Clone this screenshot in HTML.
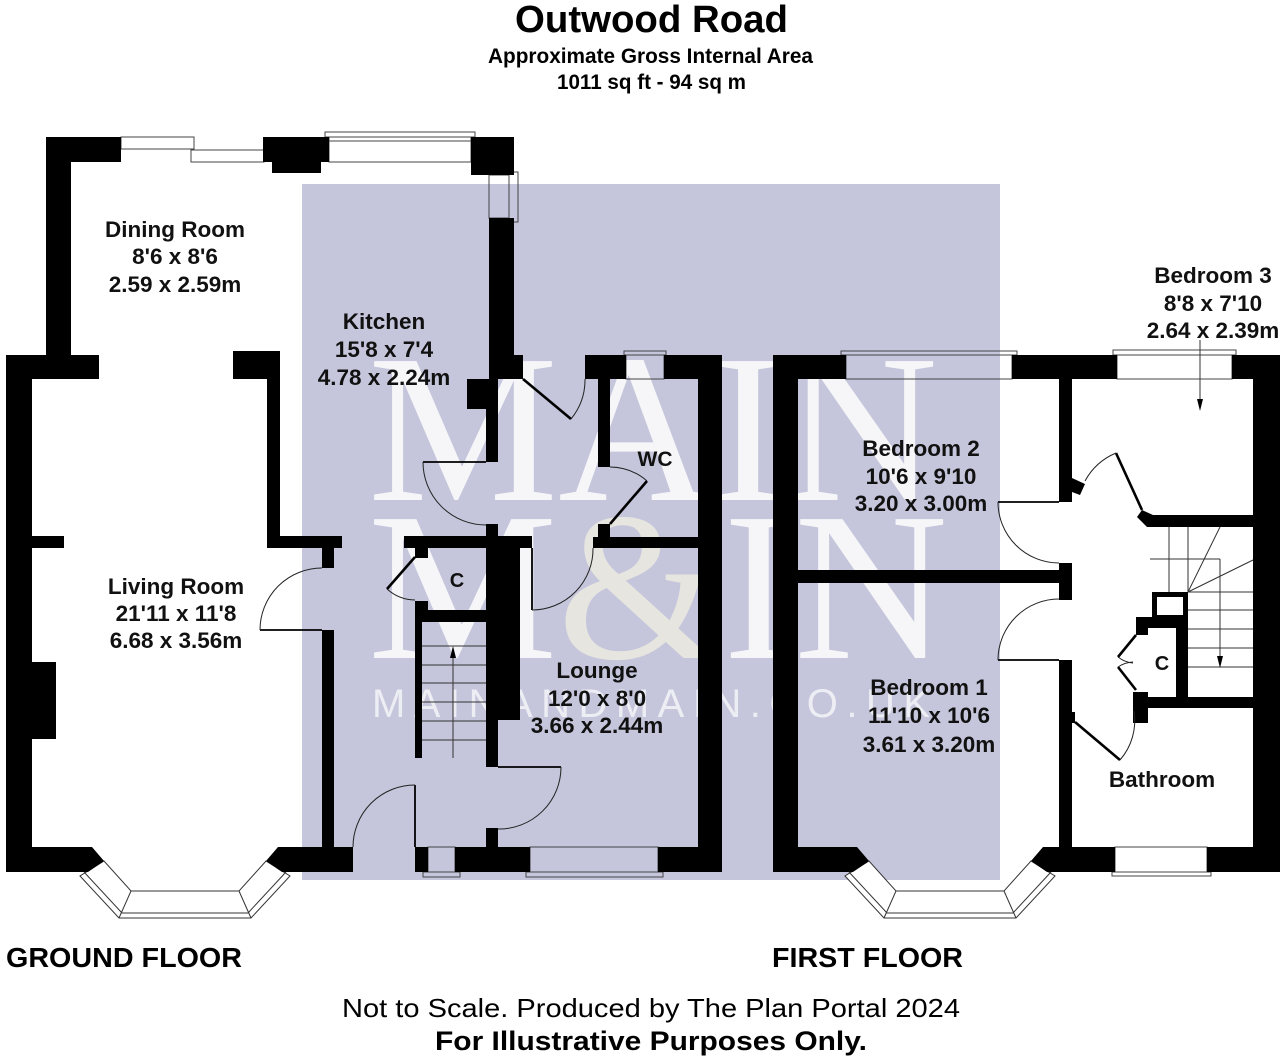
<!DOCTYPE html>
<html><head><meta charset="utf-8"><style>
html,body{margin:0;padding:0;background:#fff;}
svg{display:block;}
.lb{font-family:"Liberation Sans",Arial,sans-serif;font-weight:bold;font-size:22.5px;fill:#111;text-anchor:middle;}
.w{fill:#000;}
.win{fill:none;stroke:#444;stroke-width:1;}
.arc{fill:none;stroke:#222;stroke-width:1;}
.leaf{fill:none;stroke:#000;stroke-width:2.6;}
.leafT{fill:none;stroke:#000;stroke-width:1.8;}
.st{stroke:#333;stroke-width:1;fill:none;}
</style></head><body>
<svg width="1288" height="1064" viewBox="0 0 1288 1064" xmlns="http://www.w3.org/2000/svg">
<rect width="1288" height="1064" fill="#fff"/>
<rect x="302" y="184" width="698" height="696" fill="#c5c6db"/>

<!-- watermark -->
<g font-family="'Liberation Serif',serif" fill="#fff" opacity="0.85">
<text x="368" y="500" font-size="212" textLength="570" lengthAdjust="spacingAndGlyphs">MAIN</text>
<text x="368" y="658" font-size="212" textLength="580" lengthAdjust="spacingAndGlyphs">M<tspan fill="#ecebe2">&amp;</tspan>IN</text>
</g>
<text x="372" y="717" font-family="'Liberation Sans',sans-serif" font-size="40" fill="#fff" opacity="0.7" textLength="558" lengthAdjust="spacing">MAINANDMAIN.CO.UK</text>

<!-- ground floor windows -->
<rect class="win" x="121" y="137" width="73" height="12"/>
<rect class="win" x="191" y="150" width="73" height="12"/>
<rect class="win" x="325" y="132" width="150" height="5"/>
<rect class="win" x="329" y="137" width="142" height="25"/>
<line class="win" x1="329" y1="141" x2="471" y2="141"/>
<rect class="win" x="489" y="175" width="20" height="43"/>
<rect class="win" x="509" y="172" width="9" height="50"/>
<rect class="win" x="624" y="351" width="42" height="4"/>
<rect class="win" x="626" y="355" width="38" height="24"/>
<rect class="win" x="428" y="847" width="27" height="25"/>
<rect class="win" x="423" y="872" width="37" height="5"/>
<rect class="win" x="530" y="847" width="128" height="25"/>
<rect class="win" x="526" y="872" width="137" height="5"/>

<!-- first floor windows -->
<rect class="win" x="841" y="351" width="176" height="4"/>
<rect class="win" x="846" y="355" width="166" height="24"/>
<rect class="win" x="1113" y="350" width="123" height="5"/>
<rect class="win" x="1117" y="355" width="115" height="24"/>
<rect class="win" x="1115" y="847" width="92" height="25"/>
<rect class="win" x="1112" y="872" width="99" height="4"/>

<!-- bays -->
<g fill="#fff" stroke="#333" stroke-width="1">
<polygon points="80,876 119,918 251,918 290,876 266,861 239,891 131,891 104,861"/>
<polygon points="845,876 884,918 1016,918 1055,876 1031,861 1004,891 896,891 869,861"/>
</g>
<g class="st">
<polyline points="84,872 122,913 248,913 286,872"/>
<line x1="131" y1="891" x2="119" y2="918"/><line x1="239" y1="891" x2="251" y2="918"/>
<polyline points="849,872 887,913 1013,913 1051,872"/>
<line x1="896" y1="891" x2="884" y2="918"/><line x1="1004" y1="891" x2="1016" y2="918"/>
</g>

<!-- ground floor walls -->
<g class="w">
<rect x="46" y="137" width="25" height="242"/>
<rect x="6" y="355" width="93" height="24"/>
<rect x="6" y="355" width="26" height="517"/>
<rect x="46" y="137" width="75" height="25"/>
<rect x="263" y="137" width="66" height="25"/>
<rect x="272" y="162" width="49" height="11"/>
<rect x="471" y="137" width="43" height="38"/>
<rect x="489" y="218" width="25" height="161"/>
<rect x="514" y="355" width="9" height="24"/>
<rect x="467" y="379" width="31" height="30"/>
<rect x="486" y="409" width="12" height="53"/>
<rect x="585" y="355" width="41" height="24"/>
<rect x="664" y="355" width="58" height="24"/>
<rect x="698" y="355" width="24" height="517"/>
<rect x="598" y="379" width="12" height="88"/>
<rect x="598" y="524" width="12" height="13"/>
<rect x="593" y="537" width="105" height="11"/>
<rect x="486" y="524" width="12" height="12"/>
<rect x="404" y="536" width="128" height="12"/>
<rect x="486" y="548" width="34" height="172"/>
<rect x="486" y="720" width="12" height="47"/>
<rect x="415" y="548" width="13" height="10"/>
<rect x="415" y="601" width="13" height="10"/>
<rect x="415" y="610" width="71" height="12"/>
<rect x="415" y="622" width="7" height="136"/>
<rect x="486" y="828" width="12" height="19"/>
<rect x="415" y="847" width="13" height="25"/>
<rect x="455" y="847" width="75" height="25"/>
<rect x="658" y="847" width="64" height="25"/>
<rect x="233" y="351" width="47" height="28"/>
<rect x="267" y="379" width="13" height="169"/>
<rect x="267" y="536" width="75" height="12"/>
<rect x="322" y="548" width="12" height="20"/>
<rect x="322" y="630" width="12" height="217"/>
<rect x="32" y="536" width="32" height="12"/>
<rect x="32" y="662" width="24" height="77"/>
<polygon points="6,847 92,847 104,861 88,872 6,872"/>
<polygon points="353,847 278,847 266,861 282,872 353,872"/>
</g>

<!-- first floor walls -->
<g class="w">
<rect x="773" y="355" width="25" height="517"/>
<rect x="773" y="355" width="73" height="24"/>
<rect x="1012" y="355" width="105" height="24"/>
<rect x="1232" y="355" width="48" height="24"/>
<rect x="1253" y="355" width="27" height="517"/>
<rect x="1059" y="379" width="13" height="123"/>
<rect x="1059" y="563" width="13" height="37"/>
<rect x="798" y="570" width="274" height="13"/>
<rect x="1059" y="660" width="13" height="187"/>
<rect x="1150" y="515" width="103" height="12"/>
<polygon points="1137,517 1142,510 1153,515 1153,527 1147,527"/>
<polygon points="1072,478 1085,484 1080,495 1072,492"/>
<rect x="1152" y="592" width="36" height="25"/>
<rect x="1136" y="617" width="52" height="11"/>
<rect x="1176" y="617" width="12" height="91"/>
<rect x="1136" y="697" width="117" height="11"/>
<rect x="1136" y="617" width="12" height="18"/>
<rect x="1133" y="692" width="15" height="31"/>
<rect x="1072" y="712" width="3" height="11"/>
<rect x="1207" y="847" width="73" height="25"/>
<polygon points="773,847 857,847 869,861 853,872 773,872"/>
<polygon points="1115,847 1043,847 1031,861 1047,872 1115,872"/>
</g>
<rect x="1157" y="597" width="26" height="18" fill="#fff"/>

<!-- doors ground -->
<line class="leafT" x1="260" y1="630" x2="322" y2="630"/>
<path class="arc" d="M260,630 A62,62 0 0 1 322,568"/>
<line class="leafT" x1="423" y1="462" x2="486" y2="462"/>
<path class="arc" d="M423,462 A63,63 0 0 0 486,525"/>
<line class="leaf" x1="523" y1="379" x2="571" y2="419"/>
<path class="arc" d="M571,419 A62,62 0 0 0 585,379"/>
<line class="leaf" x1="610" y1="524" x2="647" y2="481"/>
<path class="arc" d="M647,481 A57,57 0 0 0 610,467"/>
<line class="leaf" x1="415" y1="557" x2="387" y2="589"/>
<path class="arc" d="M387,589 A43,43 0 0 0 415,600"/>
<line class="leafT" x1="532" y1="548" x2="532" y2="610"/>
<path class="arc" d="M532,610 A61,61 0 0 0 593,548"/>
<line class="leafT" x1="498" y1="767" x2="561" y2="767"/>
<path class="arc" d="M561,767 A62,62 0 0 1 498,829"/>
<line class="leafT" x1="415" y1="785" x2="415" y2="847"/>
<path class="arc" d="M415,785 A62,62 0 0 0 353,847"/>

<!-- doors first -->
<line class="leafT" x1="998" y1="502" x2="1059" y2="502"/>
<path class="arc" d="M998,502 A61,61 0 0 0 1059,563"/>
<line class="leafT" x1="998" y1="660" x2="1059" y2="660"/>
<path class="arc" d="M998,660 A61,61 0 0 1 1059,599"/>
<line class="leaf" x1="1116" y1="453" x2="1142" y2="510"/>
<path class="arc" d="M1116,453 A63,63 0 0 0 1085,481"/>
<line class="leaf" x1="1075" y1="722" x2="1120" y2="760"/>
<path class="arc" d="M1120,760 A60,60 0 0 0 1134,711"/>
<line class="leaf" x1="1136" y1="635" x2="1118" y2="657"/>
<line class="leaf" x1="1136" y1="690" x2="1118" y2="667"/>
<path class="arc" d="M1118,657 A28,28 0 0 0 1133,663"/>
<path class="arc" d="M1118,667 A29,29 0 0 1 1133,662"/>

<!-- stairs ground -->
<g class="st">
<line x1="422" y1="646" x2="486" y2="646"/>
<line x1="422" y1="665" x2="486" y2="665"/>
<line x1="422" y1="683" x2="486" y2="683"/>
<line x1="422" y1="702" x2="486" y2="702"/>
<line x1="422" y1="721" x2="486" y2="721"/>
<line x1="422" y1="740" x2="486" y2="740"/>
<line x1="453" y1="758" x2="453" y2="656"/>
</g>
<polygon points="453,646 450,658 456,658" fill="#000"/>

<!-- stairs first -->
<g class="st">
<line x1="1169" y1="527" x2="1169" y2="592"/>
<line x1="1188" y1="527" x2="1188" y2="592"/>
<line x1="1150" y1="559" x2="1220" y2="559"/>
<line x1="1220" y1="559" x2="1220" y2="592"/>
<line x1="1188" y1="592" x2="1220" y2="527"/>
<line x1="1188" y1="592" x2="1253" y2="560"/>
<line x1="1188" y1="592" x2="1253" y2="592"/>
<line x1="1188" y1="610" x2="1253" y2="610"/>
<line x1="1188" y1="629" x2="1253" y2="629"/>
<line x1="1188" y1="648" x2="1253" y2="648"/>
<line x1="1188" y1="667" x2="1253" y2="667"/>
<line x1="1220" y1="560" x2="1220" y2="658"/>
<line x1="1200" y1="340" x2="1200" y2="400"/>
</g>
<polygon points="1220,668 1217,656 1223,656" fill="#000"/>
<polygon points="1200,411 1197,399 1203,399" fill="#000"/>

<!-- room labels -->
<text class="lb" x="175" y="237">Dining Room</text>
<text class="lb" x="175" y="264">8'6 x 8'6</text>
<text class="lb" x="175" y="292">2.59 x 2.59m</text>
<text class="lb" x="384" y="329">Kitchen</text>
<text class="lb" x="384" y="357">15'8 x 7'4</text>
<text class="lb" x="384" y="385">4.78 x 2.24m</text>
<text class="lb" x="176" y="594">Living Room</text>
<text class="lb" x="176" y="621">21'11 x 11'8</text>
<text class="lb" x="176" y="648">6.68 x 3.56m</text>
<text class="lb" x="457" y="587" style="font-size:20px">C</text>
<text class="lb" x="655" y="466" style="font-size:21px">WC</text>
<text class="lb" x="597" y="678">Lounge</text>
<text class="lb" x="597" y="706">12'0 x 8'0</text>
<text class="lb" x="597" y="733">3.66 x 2.44m</text>
<text class="lb" x="921" y="456">Bedroom 2</text>
<text class="lb" x="921" y="484">10'6 x 9'10</text>
<text class="lb" x="921" y="511">3.20 x 3.00m</text>
<text class="lb" x="1213" y="283">Bedroom 3</text>
<text class="lb" x="1213" y="311">8'8 x 7'10</text>
<text class="lb" x="1213" y="338">2.64 x 2.39m</text>
<text class="lb" x="929" y="695">Bedroom 1</text>
<text class="lb" x="929" y="723">11'10 x 10'6</text>
<text class="lb" x="929" y="752">3.61 x 3.20m</text>
<text class="lb" x="1162" y="670" style="font-size:20px">C</text>
<text class="lb" x="1162" y="787">Bathroom</text>

<!-- title -->
<g font-family="'Liberation Sans',Arial,sans-serif" font-weight="bold" fill="#000">
<text x="515" y="32" font-size="38" textLength="273" lengthAdjust="spacingAndGlyphs">Outwood Road</text>
<text x="488" y="63" font-size="21" textLength="325" lengthAdjust="spacingAndGlyphs">Approximate Gross Internal Area</text>
<text x="557" y="89" font-size="21" textLength="189" lengthAdjust="spacingAndGlyphs">1011 sq ft - 94 sq m</text>
<text x="6" y="967" font-size="28" textLength="236" lengthAdjust="spacingAndGlyphs">GROUND FLOOR</text>
<text x="772" y="967" font-size="28" textLength="191" lengthAdjust="spacingAndGlyphs">FIRST FLOOR</text>
<text x="435" y="1050" font-size="27" textLength="432" lengthAdjust="spacingAndGlyphs">For Illustrative Purposes Only.</text>
</g>
<text x="342" y="1017" font-family="'Liberation Sans',Arial,sans-serif" font-size="26" fill="#000" textLength="618" lengthAdjust="spacingAndGlyphs">Not to Scale. Produced by The Plan Portal 2024</text>
</svg>
</body></html>
